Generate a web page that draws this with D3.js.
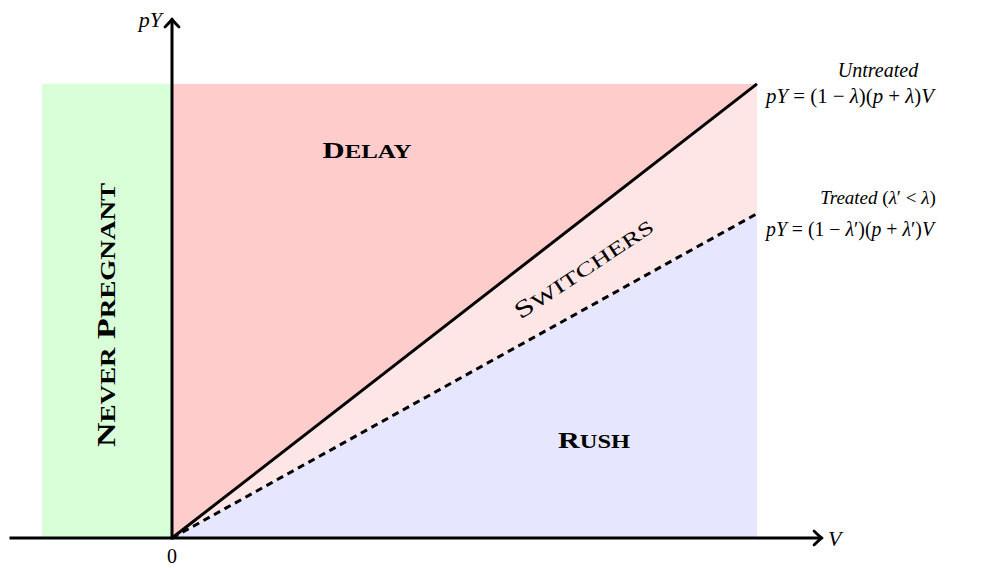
<!DOCTYPE html>
<html>
<head>
<meta charset="utf-8">
<script src="https://cdn.jsdelivr.net/npm/d3@7"></script>
<style>
  html, body { margin: 0; padding: 0; background: #fff; }
  svg { display: block; }
  text { font-family: "Liberation Serif", "Times New Roman", serif; fill: #000; }
</style>
</head>
<body>
<svg id="chart" width="1002" height="568"></svg>
<script>
// ---- data ----
const vExtent = [-1.25, 5];           // V axis extent (arrow end)
const pyExtent = [0, 4];              // pY axis extent (arrow end)
const neverPregnant = [-1, 0];        // V range of the "never pregnant" band
const regionRight = 4.5;              // right edge of shaded regions
const regionTop = 3.5;                // top edge of shaded regions
const untreatedLine = [[0, 0], [4.5, 3.5]];  // pY = (1-λ)(p+λ)V
const treatedLine = [[0, 0], [4.5, 2.5]];    // pY = (1-λ')(p+λ')V
const regionLabels = ["NEVER PREGNANT", "DELAY", "SWITCHERS", "RUSH"];

// ---- scales ----
const x = d3.scaleLinear().domain(vExtent).range([9.5, 822]);
const y = d3.scaleLinear().domain(pyExtent).range([538, 19]);

const svg = d3.select("#chart");

// regions
const poly = pts => "M" + pts.map(p => x(p[0]) + "," + y(p[1])).join("L") + "Z";
svg.append("rect")
  .attr("x", x(neverPregnant[0])).attr("y", y(regionTop))
  .attr("width", x(neverPregnant[1]) - x(neverPregnant[0]))
  .attr("height", y(0) - y(regionTop))
  .attr("fill", "#d9ffd9");
const uEnd = untreatedLine[1], tEnd = treatedLine[1];
svg.append("path").attr("d", poly([[0, 0], [0, regionTop], [regionRight, regionTop], uEnd])).attr("fill", "#ffcccc");
svg.append("path").attr("d", poly([[0, 0], uEnd, tEnd])).attr("fill", "#ffe6e6");
svg.append("path").attr("d", poly([[0, 0], tEnd, [regionRight, 0]])).attr("fill", "#e6e6ff");

// lines
const line = d3.line().x(d => x(d[0])).y(d => y(d[1]));
svg.append("path").attr("d", line(untreatedLine)).attr("stroke", "#000").attr("stroke-width", 3).attr("fill", "none");
svg.append("path").attr("d", line(treatedLine)).attr("stroke", "#000").attr("stroke-width", 3)
  .attr("stroke-dasharray", "7,5").attr("fill", "none");

// axes
const ax = svg.append("g").attr("stroke", "#000").attr("fill", "none").attr("stroke-width", 3);
ax.append("line").attr("x1", x(vExtent[0])).attr("x2", x(vExtent[1]) - 2).attr("y1", y(0)).attr("y2", y(0));
ax.append("line").attr("x1", x(0)).attr("x2", x(0)).attr("y1", y(0) + 1.5).attr("y2", y(pyExtent[1]) + 2);
// arrowheads
const ah = (tx, ty, rot) => {
  ax.append("path")
    .attr("transform", `translate(${tx},${ty}) rotate(${rot})`)
    .attr("d", "M-8,-7 Q-2,-1 0,0 Q-2,1 -8,7")
    .attr("stroke-width", 2.8).attr("stroke-linecap", "round").attr("stroke-linejoin", "round");
};
ah(x(vExtent[1]), y(0), 0);
ah(x(0), y(pyExtent[1]), -90);

// axis labels
svg.append("text").attr("x", x(0)).attr("y", 563).attr("text-anchor", "middle").attr("font-size", 20).text("0");
svg.append("text").attr("x", 828).attr("y", 546).attr("font-size", 22).attr("font-style", "italic").text("V");
svg.append("text").attr("x", 162).attr("y", 27).attr("text-anchor", "end").attr("font-size", 22).attr("font-style", "italic").text("pY");

// formula helper: parts [text, italic]
function formula(xp, yp, parts, size) {
  const t = svg.append("text").attr("x", xp).attr("y", yp).attr("font-size", size);
  parts.forEach(([s, it]) => {
    t.append("tspan").attr("font-style", it ? "italic" : "normal").text(s);
  });
  return t;
}
svg.append("text").attr("x", 878).attr("y", 77).attr("text-anchor", "middle").attr("font-size", 20).attr("font-style", "italic").text("Untreated");
formula(766, 103, [["pY", 1], [" = (1 − ", 0], ["λ", 1], [")(", 0], ["p", 1], [" + ", 0], ["λ", 1], [")", 0], ["V", 1]], 21)
  .attr("textLength", 168).attr("lengthAdjust", "spacingAndGlyphs");
const tr = svg.append("text").attr("x", 878).attr("y", 204).attr("text-anchor", "middle").attr("font-size", 19);
tr.append("tspan").attr("font-style", "italic").text("Treated");
tr.append("tspan").text(" (");
tr.append("tspan").attr("font-style", "italic").text("λ");
tr.append("tspan").text("′ < ");
tr.append("tspan").attr("font-style", "italic").text("λ");
tr.append("tspan").text(")");
formula(766, 236, [["pY", 1], [" = (1 − ", 0], ["λ", 1], ["′)(", 0], ["p", 1], [" + ", 0], ["λ", 1], ["′)", 0], ["V", 1]], 20)
  .attr("textLength", 168).attr("lengthAdjust", "spacingAndGlyphs");

// small-caps label helper
function scLabel(label, cx, cy, rot, big, small, len, bold) {
  const g = svg.append("g").attr("transform", `translate(${cx},${cy}) rotate(${rot})`);
  const t = g.append("text").attr("text-anchor", "middle").attr("font-weight", bold ? "bold" : "normal")
    .attr("textLength", len).attr("lengthAdjust", "spacingAndGlyphs");
  label.split(" ").forEach((w, i) => {
    t.append("tspan").attr("font-size", big).text((i ? " " : "") + w[0]);
    t.append("tspan").attr("font-size", small).text(w.slice(1));
  });
}
scLabel(regionLabels[0], 115, 315, -90, 25, 20, 264, true);
scLabel(regionLabels[1], 367, 158, 0, 24, 19.5, 89, true);
scLabel(regionLabels[2], 588, 275, -33.5, 24, 19.5, 162, false);
scLabel(regionLabels[3], 594, 448, 0, 24, 19.5, 72, true);
</script>
</body>
</html>
